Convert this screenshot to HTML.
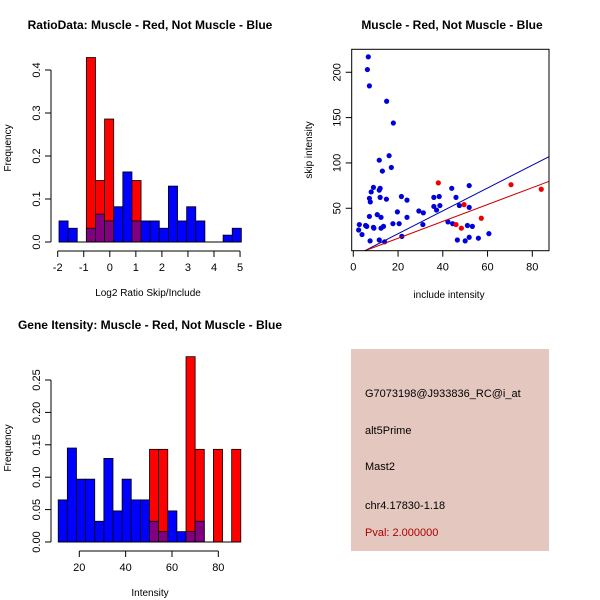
<!DOCTYPE html>
<html><head><meta charset="utf-8"><style>
body{margin:0;background:#fff;}
svg{display:block;font-family:"Liberation Sans",sans-serif;}
</style></head><body>
<svg id="c" width="600" height="600" viewBox="0 0 600 600">
<rect width="600" height="600" fill="#fff"/>
<text x="150" y="29" font-size="12" font-weight="bold" text-anchor="middle">RatioData: Muscle - Red, Not Muscle - Blue</text>
<text x="452" y="29" font-size="12" font-weight="bold" text-anchor="middle">Muscle - Red, Not Muscle - Blue</text>
<text x="150" y="329" font-size="12" font-weight="bold" text-anchor="middle">Gene Itensity: Muscle - Red, Not Muscle - Blue</text>
<rect x="351" y="349" width="198" height="202" fill="#e4c8c0"/>
<text x="365" y="397" font-size="11">G7073198@J933836_RC@i_at</text>
<text x="365" y="434" font-size="11">alt5Prime</text>
<text x="365" y="470" font-size="11">Mast2</text>
<text x="365" y="509" font-size="11">chr4.17830-1.18</text>
<text x="365" y="536" font-size="11" fill="#aa0000">Pval: 2.000000</text>
</svg>
<script>
// Ratio histogram data
const ratioStart = -1.95, ratioWidth = 0.35;
const ratioBlue = [0.049,0.032,0,0.032,0.065,0.049,0.082,0.163,0.049,0.049,0.049,0.032,0.13,0.049,0.082,0.049,0,0,0.016,0.032];
const ratioRed  = [0,0,0,0.429,0.143,0.286,0,0,0.143,0,0,0,0,0,0,0,0,0,0,0];
const ratioXTicks = [-2,-1,0,1,2,3,4,5];
const ratioYTicks = [0,0.1,0.2,0.3,0.4];
// Intensity histogram data
const intStart = 10.9, intWidth = 3.94;
const intBlue = [0.065,0.145,0.097,0.097,0.032,0.129,0.048,0.097,0.065,0.065,0.032,0.016,0.048,0.016,0.016,0.032,0,0,0,0];
const intRed  = [0,0,0,0,0,0,0,0,0,0,0.143,0.143,0,0,0.286,0.143,0,0.143,0,0.143];
const intXTicks = [20,40,60,80];
const intYTicks = [0,0.05,0.1,0.15,0.2,0.25];
const intYLabels = ["0.00","0.05","0.10","0.15","0.20","0.25"];
// Scatter data
const blueX = [6.7,6.3,7.2,14.9,17.9,16,11.6,17,13,9,12,11.6,8,7.2,7.6,12,14.8,21.5,24,19.7,10.7,12.4,7.2,24,17.7,20.5,2.7,5.5,6,9,9.2,12.4,13.5,2.4,3.9,7.5,11.6,14,21.7,29.3,31.3,31.1,36,38.4,36,37.2,38.7,44,45.9,47.4,51.8,51.8,42.3,44.4,51,53.2,46.5,50,51.8,55.9,60.6];
const blueY = [217,203,185,168,144,108,103,95,91,73,72,70,68,61,57,62,60,63,59,46,43,40,41,40,33,33,32,31,30,29,28,28,30,26,21,14,15,13,19,47,45,32,62,63,52,48,53,72,62,53,75,51,35,33,31,30,15,14,18,17,22];
const redX = [38,70.5,84,49.5,57.2,45.9,48.3];
const redY = [78,76,71,54,39,32,28];
const fitBlue = [-3.3,1.26];
const fitRed = [-1.7,0.93];
const scXTicks = [0,20,40,60,80];
const scYTicks = [50,100,150,200];

const svg = document.getElementById('c');
const NS = 'http://www.w3.org/2000/svg';
function mk(tag, attrs, parent){const e=document.createElementNS(NS,tag);for(const k in attrs)e.setAttribute(k,attrs[k]);(parent||svg).appendChild(e);return e;}

function hist(cfg){
  const g = mk('g',{});
  
  
  const X = v => cfg.x0px + (v - cfg.xv0) * cfg.xs;
  const Y = v => cfg.y0px - v * cfg.ys;
  for(let i=0;i<cfg.blue.length;i++){
    const a = cfg.start + i*cfg.width, b = a + cfg.width;
    const bv = cfg.blue[i], rv = cfg.red[i];
    const x = X(a), w = X(b)-X(a);
    if(rv>0){
      const r = mk('rect',{x:x,y:Y(rv),width:w,height:Y(0)-Y(rv),fill:'#ff0000',stroke:'#000','stroke-width':0.8},g);
      
      
    }
    if(bv>0){
      const col = rv>0 ? '#800080' : '#0000ff';
      const r = mk('rect',{x:x,y:Y(bv),width:w,height:Y(0)-Y(bv),fill:col,stroke:'#000','stroke-width':0.8},g);
      
      
    }
  }
  // baseline
  mk('line',{x1:X(cfg.start),x2:X(cfg.start+cfg.width*cfg.blue.length),y1:Y(0),y2:Y(0),stroke:'#000'},g);
  // y axis
  const ya = mk('g',{},g);
  
  
  const yt = cfg.yticks;
  mk('line',{x1:cfg.yaxX,x2:cfg.yaxX,y1:Y(yt[0]),y2:Y(yt[yt.length-1]),stroke:'#000'},ya);
  yt.forEach((t,i)=>{
    mk('line',{x1:cfg.yaxX-6,x2:cfg.yaxX,y1:Y(t),y2:Y(t),stroke:'#000'},ya);
    const tx = mk('text',{x:cfg.yaxX-11,y:Y(t),'font-size':11,'text-anchor':'middle',transform:`rotate(-90 ${cfg.yaxX-11} ${Y(t)})`},ya);
    tx.textContent = cfg.ylabels ? cfg.ylabels[i] : (t===0?'0.0':String(t));
  });
  const xa = mk('g',{},g);
  
  
  const xt = cfg.xticks;
  mk('line',{x1:X(xt[0]),x2:X(xt[xt.length-1]),y1:cfg.xaxY,y2:cfg.xaxY,stroke:'#000'},xa);
  xt.forEach(t=>{
    mk('line',{x1:X(t),x2:X(t),y1:cfg.xaxY,y2:cfg.xaxY+6,stroke:'#000'},xa);
    const tx = mk('text',{x:X(t),y:cfg.xaxY+20,'font-size':11,'text-anchor':'middle'},xa);
    tx.textContent = String(t);
  });
  const xl = mk('text',{x:cfg.xlabX,y:cfg.xaxY+45,'font-size':10,'text-anchor':'middle'},g);
  xl.textContent = cfg.xlabel;
  
  
  const yl = mk('text',{x:11,y:cfg.ylabY,'font-size':10,'text-anchor':'middle',transform:`rotate(-90 11 ${cfg.ylabY})`},g);
  yl.textContent = 'Frequency';
  
  
}

hist({name:'ratio-histogram',start:ratioStart,width:ratioWidth,blue:ratioBlue,red:ratioRed,
  x0px:57.7,xv0:-2,xs:26.05,y0px:242,ys:430,yaxX:51,xaxY:251,xticks:ratioXTicks,yticks:ratioYTicks,
  xlabel:'Log2 Ratio Skip/Include',xlabX:148,ylabY:148});
hist({name:'intensity-histogram',start:intStart,width:intWidth,blue:intBlue,red:intRed,
  x0px:79.3,xv0:20,xs:2.317,y0px:542,ys:648,yaxX:51,xaxY:551,xticks:intXTicks,yticks:intYTicks,ylabels:intYLabels,
  xlabel:'Intensity',xlabX:150,ylabY:448});

// Scatter
(function(){
  const g = mk('g',{});
  
  
  const X = v => 353.3 + v*2.2375;
  const Y = v => 253.6 - v*0.9067;
  const L=351.7,R=549,T=49.3,B=250.7;
  mk('clipPath',{id:'sc'},g);
  mk('rect',{x:L,y:T,width:R-L,height:B-T},document.getElementById('sc'));
  const pts = mk('g',{'clip-path':'url(#sc)'},g);
  blueX.forEach((x,i)=>{
    const c = mk('circle',{cx:X(x),cy:Y(blueY[i]),r:2.6,fill:'#0000dd'},pts);
    
    
  });
  redX.forEach((x,i)=>{
    const c = mk('circle',{cx:X(x),cy:Y(redY[i]),r:2.6,fill:'#ee0000'},pts);
    
    
  });
  const x1=0,x2=90;
  const bl = mk('line',{x1:X(x1),y1:Y(fitBlue[0]+fitBlue[1]*x1),x2:X(x2),y2:Y(fitBlue[0]+fitBlue[1]*x2),stroke:'#0000aa','stroke-width':1},pts);
  
  
  const rl = mk('line',{x1:X(x1),y1:Y(fitRed[0]+fitRed[1]*x1),x2:X(x2),y2:Y(fitRed[0]+fitRed[1]*x2),stroke:'#cc0000','stroke-width':1},pts);
  
  
  mk('rect',{x:L,y:T,width:R-L,height:B-T,fill:'none',stroke:'#000'},g);
  scXTicks.forEach(t=>{
    mk('line',{x1:X(t),x2:X(t),y1:B,y2:B+6,stroke:'#000'},g);
    const tx = mk('text',{x:X(t),y:B+20,'font-size':11,'text-anchor':'middle'},g);
    tx.textContent = String(t);
  });
  scYTicks.forEach(t=>{
    mk('line',{x1:L-6,x2:L,y1:Y(t),y2:Y(t),stroke:'#000'},g);
    const tx = mk('text',{x:L-11,y:Y(t),'font-size':11,'text-anchor':'middle',transform:`rotate(-90 ${L-11} ${Y(t)})`},g);
    tx.textContent = String(t);
  });
  const xl = mk('text',{x:449,y:298,'font-size':10,'text-anchor':'middle'},g);
  xl.textContent='include intensity';
  
  
  const yl = mk('text',{x:312,y:150,'font-size':10,'text-anchor':'middle',transform:'rotate(-90 312 150)'},g);
  yl.textContent='skip intensity';
  
  
})();
</script>
</body></html>
